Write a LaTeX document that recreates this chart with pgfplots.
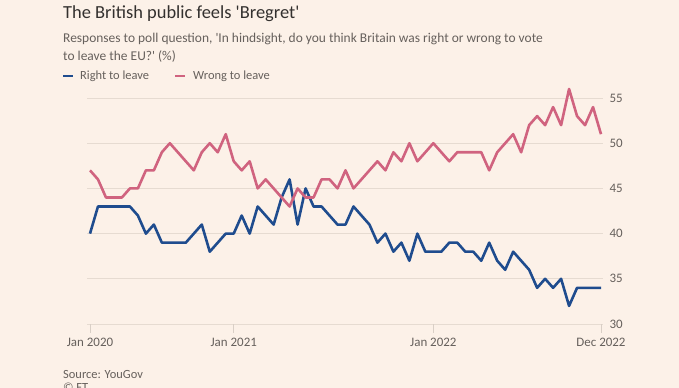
\documentclass[border=0pt]{standalone}
\usepackage{pgfplots}
\pgfplotsset{compat=1.18}
\usepackage{fontspec}
\setmainfont{Carlito}
\definecolor{bg}{HTML}{FCF1E8}
\definecolor{titlec}{HTML}{33302E}
\definecolor{subc}{HTML}{66605C}
\definecolor{gridc}{HTML}{E6DBD1}
\definecolor{axc}{HTML}{D9CFC6}
\definecolor{rightc}{HTML}{1F4C8E}
\definecolor{wrongc}{HTML}{D0637F}
\pgfplotstableread{
i right wrong
0 40 47
1 43 46
2 43 44
3 43 44
4 43 44
5 43 45
6 42 45
7 40 47
8 41 47
9 39 49
10 39 50
11 39 49
12 39 48
13 40 47
14 41 49
15 38 50
16 39 49
17 40 51
18 40 48
19 42 47
20 40 48
21 43 45
22 42 46
23 41 45
24 44 44
25 46 43
26 41 45
27 45 44
28 43 44
29 43 46
30 42 46
31 41 45
32 41 47
33 43 45
34 42 46
35 41 47
36 39 48
37 40 47
38 38 49
39 39 48
40 37 50
41 40 48
42 38 49
43 38 50
44 38 49
45 39 48
46 39 49
47 38 49
48 38 49
49 37 49
50 39 47
51 37 49
52 36 50
53 38 51
54 37 49
55 36 52
56 34 53
57 35 52
58 34 54
59 35 52
60 32 56
61 34 53
62 34 52
63 34 54
64 34 51
}\polls
\begin{document}
\begin{tikzpicture}
\fill[bg] (0bp,0bp) rectangle (679bp,388bp);
\useasboundingbox (0bp,0bp) rectangle (679bp,388bp);
\node[anchor=base west, inner sep=0, text=titlec, font=\fontsize{18.5}{22}\selectfont] at (63bp,369bp) {The British public feels \textquotesingle Bregret\textquotesingle};
\node[anchor=base west, inner sep=0, text=subc, font=\fontsize{13.5}{16}\selectfont] at (63bp,345.5bp) {Responses to poll question, \textquotesingle In hindsight, do you think Britain was right or wrong to vote};
\node[anchor=base west, inner sep=0, text=subc, font=\fontsize{13.5}{16}\selectfont] at (63bp,327bp) {to leave the EU?\textquotesingle\ (\%)};
\draw[rightc, line width=2.5bp] (63bp,312bp) -- (73bp,312bp);
\node[anchor=base west, inner sep=0, text=subc, font=\fontsize{12.5}{15}\selectfont] at (80bp,308bp) {Right to leave};
\draw[wrongc, line width=2.5bp] (175bp,312bp) -- (185bp,312bp);
\node[anchor=base west, inner sep=0, text=subc, font=\fontsize{12.5}{15}\selectfont] at (193bp,308bp) {Wrong to leave};
\begin{axis}[
  at={(87bp,64bp)}, anchor=south west,
  scale only axis, width=516bp, height=235bp,
  xmin=-0.375, xmax=64.25, ymin=30, ymax=56,
  clip=false,
  axis line style={draw=none},
  ymajorgrids, grid style={gridc, line width=0.8bp},
  ytick={30,35,40,45,50,55},
  yticklabel pos=right, ytick pos=right,
  ytick style={draw=none},
  xtick={0,18,43,64},
  xticklabels={Jan 2020,Jan 2021,Jan 2022,Dec 2022},
  xtick pos=bottom, tick align=outside,
  major tick length=9bp,
  xtick style={axc, line width=0.8bp},
  ticklabel style={font=\fontsize{13}{15}\selectfont, text=subc},
  xticklabel style={yshift=-2bp},
  yticklabel style={anchor=west, xshift=-6bp},
  /pgf/number format/assume math mode=true,
]
\addplot[rightc, line width=2.6bp, line join=round] table[x=i, y=right] {\polls};
\addplot[wrongc, line width=2.6bp, line join=round] table[x=i, y=wrong] {\polls};
\end{axis}
\node[anchor=base west, inner sep=0, text=subc, font=\fontsize{12.5}{15}\selectfont] at (63bp,10bp) {Source: YouGov};
\node[anchor=base west, inner sep=0, text=subc, font=\fontsize{12.5}{15}\selectfont] at (63bp,-3bp) {© FT};
\end{tikzpicture}
\end{document}
